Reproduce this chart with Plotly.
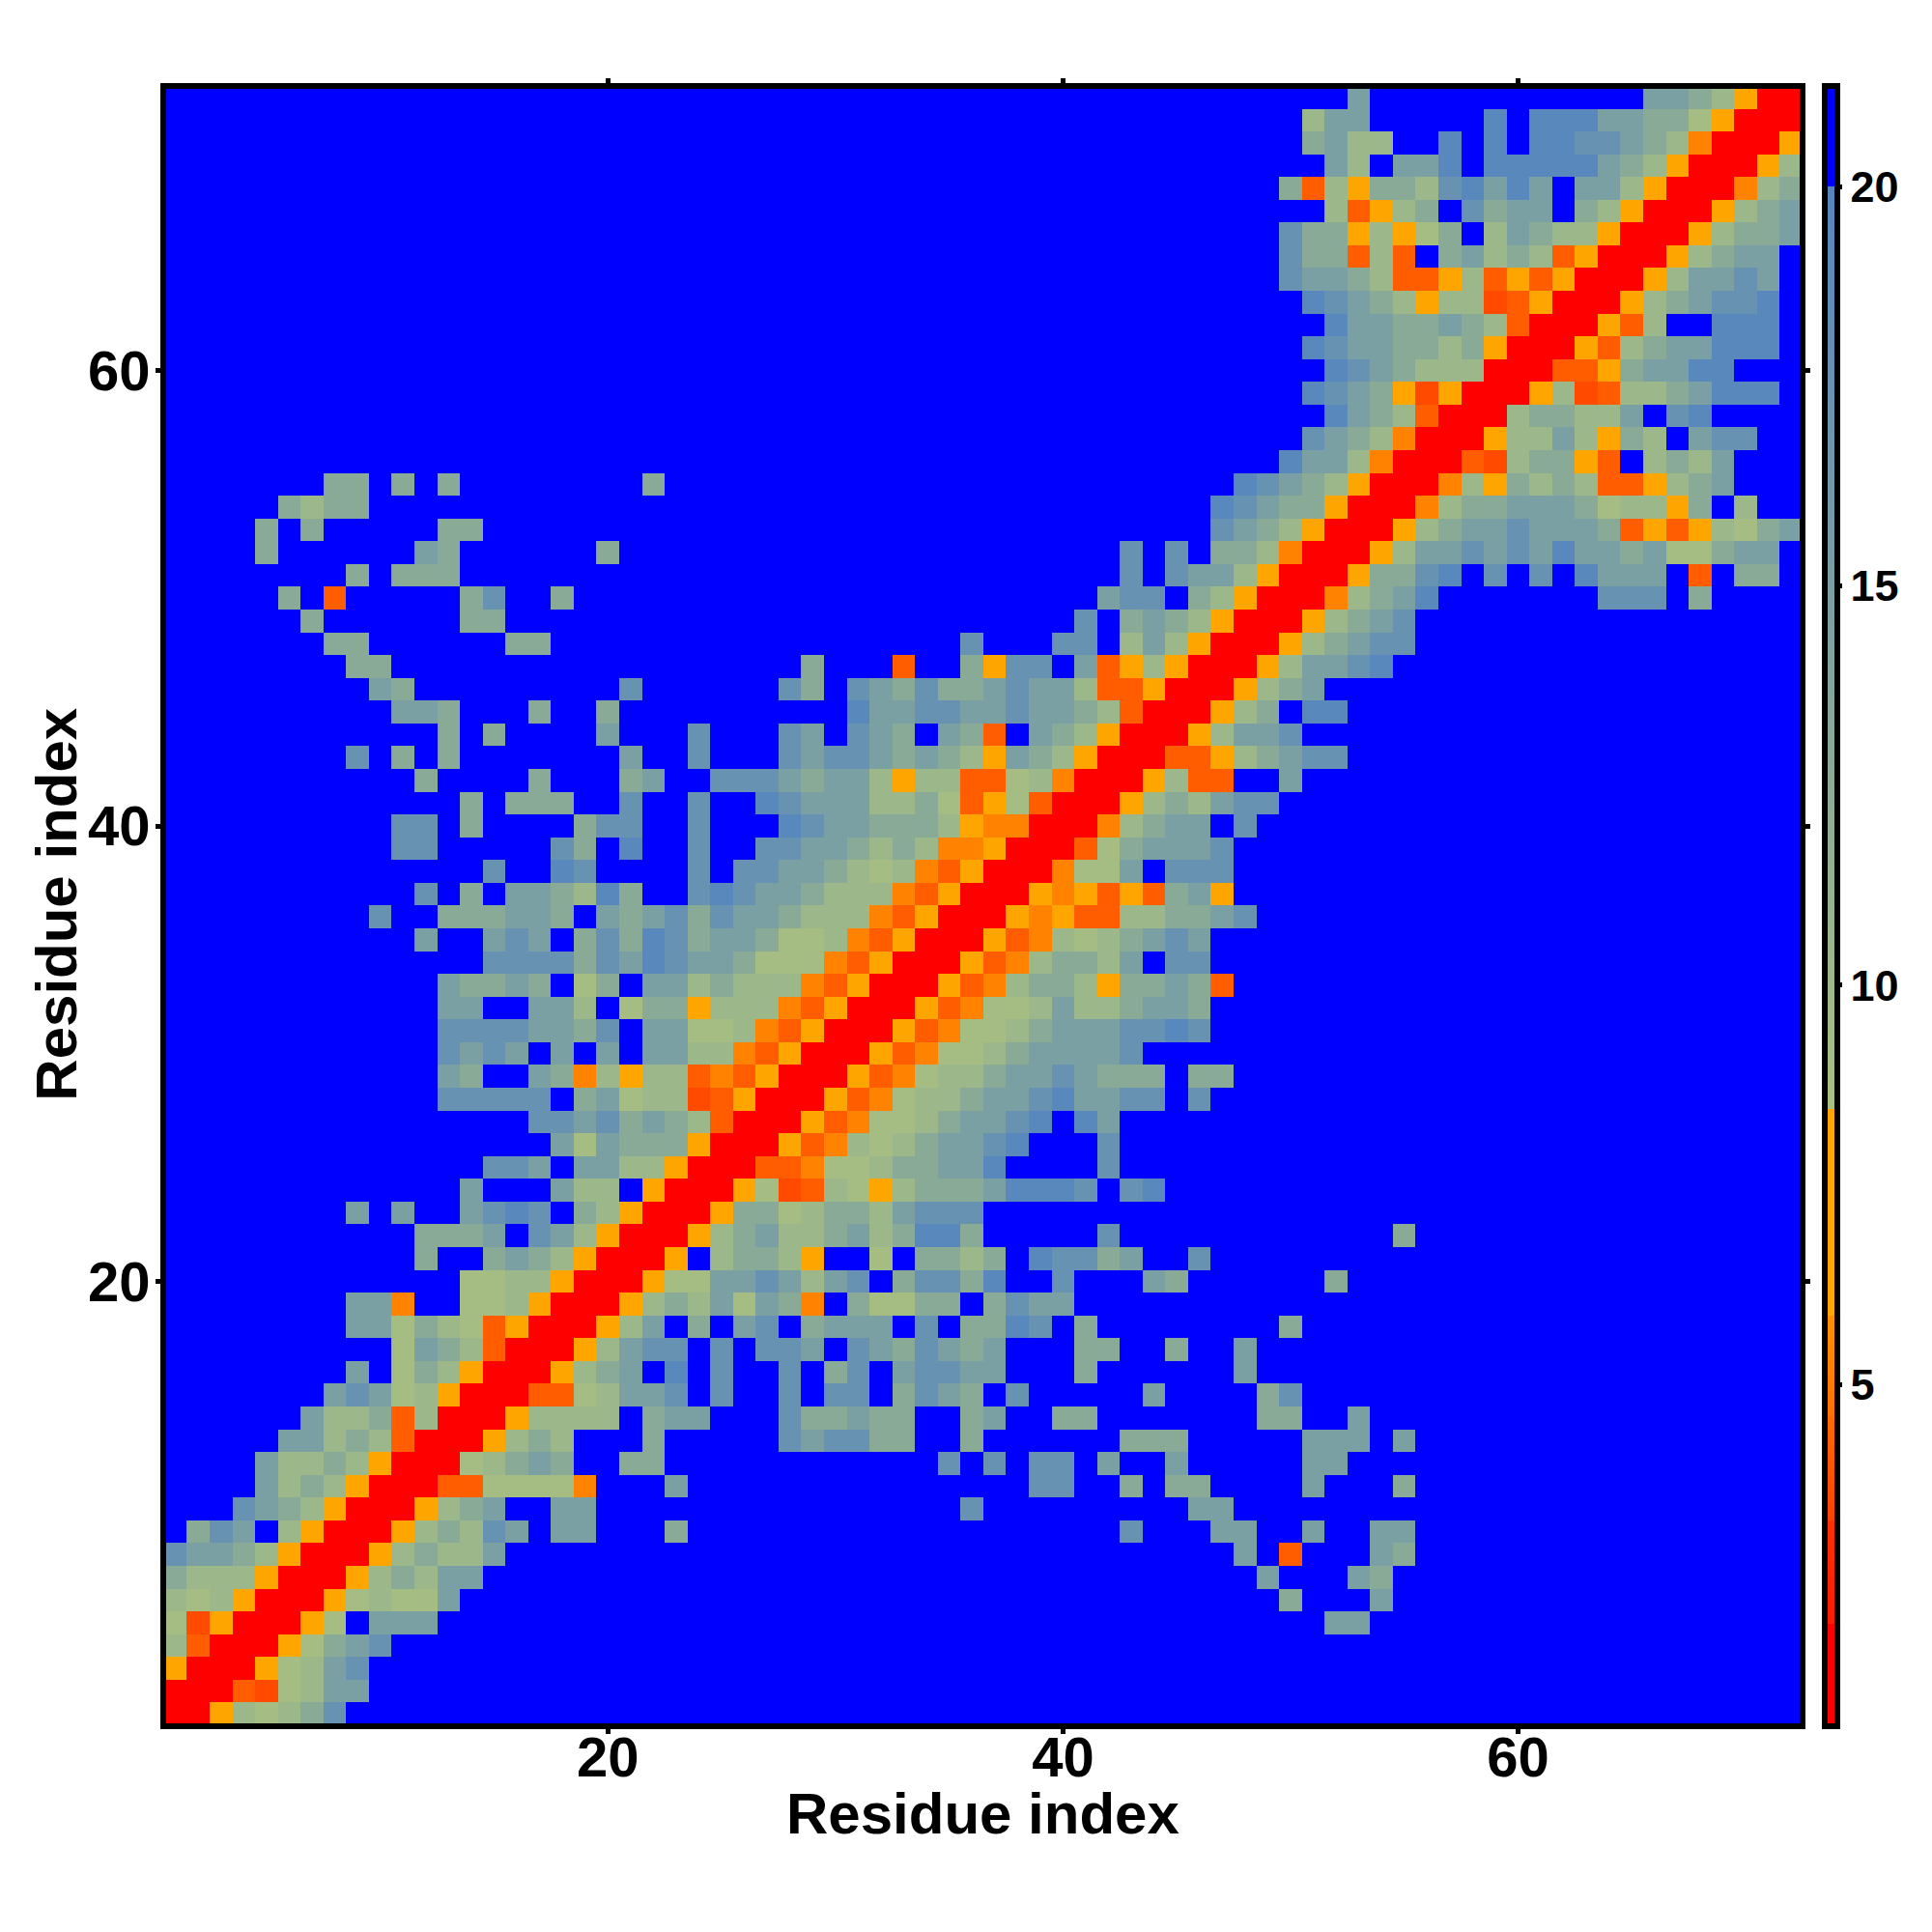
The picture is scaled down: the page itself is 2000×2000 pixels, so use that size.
import numpy as np
import plotly.graph_objects as go

# Distance level (Angstrom) read for each colour code in the picture
LEVELS = {".": 21.0, "R": 1.4, "r": 3.6, "o": 4.2, "d": 5.3, "O": 7.0,
          "a": 9.0, "b": 10.2, "c": 12.8, "e": 14.8, "f": 17.5, "g": 19.5}
N_RES = 72
RESIDUES = list(range(1, N_RES + 1))
TICKS = [20, 40, 60]
CB_TICKS = [5, 10, 15, 20]
AXIS_TITLE = "Residue index"

CELLS = [
 (1,1,"RRObabcf"),(2,1,"RRRorabee"),(3,1,"ORRROabef"),(4,1,"boRRROacef"),(5,1,"arORRROa.eee"),
 (6,1,"babORRROabaae"),(7,1,"cbbbORRRObcbee"),(8,1,"feecbORRRObcbbe"),
 (9,1,".cfe.bORRRObcbfe.ee"),(9,23,"c"),(9,43,"f"),(9,47,"ee"),(9,51,"e"),(9,54,"ee"),
 (8,48,"e"),(8,50,"o"),(8,54,"ec"),(7,49,"e"),(7,53,"ec"),(6,50,"c"),(6,54,"e"),(5,52,"ee"),
 (10,4,"fecbORRRObce..ee"),(10,36,"f"),(10,46,"ee"),
 (11,5,"ebcbORRRooaaaad"),(11,23,"e"),(11,39,"ff"),(11,43,"c"),(11,45,"cc"),(11,51,"e"),(11,55,"c"),
 (12,5,"ebbcbORRRabcec"),(12,21,"cc"),(12,35,"f"),(12,37,"f"),(12,39,"ff"),(12,42,"e"),(12,45,"e"),(12,51,"ee"),
 (13,6,"eebcboRRRObcb"),(13,22,"c"),(13,28,"feffcc"),(13,36,"c"),(13,43,"ccc"),(13,51,"eee"),(13,55,"e"),
 (14,7,"ebbcobRRRObbbb.cee"),(14,28,"fccecc"),(14,36,"ce"),(14,40,"cc"),(14,49,"cc"),(14,53,"e"),
 (15,8,"efeabORRRooabeef.f..f.ff.cfec.f"),(15,44,"e"),(15,49,"cf"),
 (16,9,"e.acbORRRObce.g.f..f.cf.effee"),(16,41,"c"),(16,48,"e"),
 (17,11,"aecboRRRObeff.f.ffe.fecfece"),(17,41,"cc"),(17,45,"c"),(17,48,"e"),
 (18,9,"eeacbaoORRRObe.c.ef.ceee.f.ccgf.c"),(18,50,"c"),
 (19,9,"eed..aabORRRObcbeaecd.caacc.cfee"),
 (20,14,"aabbORRROaaeefebef.cffcg..f"),(20,44,"ec"),(20,52,"c"),
 (21,12,"c..cecbORRRO.bccbO..a.ccbc.gffce..f"),
 (22,12,"ccce.febORRRObcebbcebcggc"),(22,42,"f"),(22,55,"c"),
 (23,9,"e"),(23,11,"e..efgf.cbORRROccabccbefff"),
 (24,14,"e...ebb.ORRROarobaObcccegggf.fg"),
 (25,15,"ffe.eebbORRRoodaabcceeg"),(25,42,"f"),
 (26,18,"eaecccORRROodbabceefg"),(26,42,"f"),
 (27,17,"ffefcecboRRROodaabceefg.ge"),
 (28,13,"fffff.ceabbroORRROodabbceefgeeff.f"),
 (29,13,"ec..ecdbObbodoORRROodabbceefeccc.cc"),
 (30,13,"fefe.e.e.eebbdoORRROodaabceeeef"),
 (31,13,"ffffeecf.eeaabdoORRROodaabceeeffgf"),
 (32,13,"ee..eeb.accObbbdoORRROodaabebbceec"),
 (33,13,"eccec.ac.eebcbbbdoORRROodbccbOcceco"),
 (34,15,"ffffcfegfeecaaadoORRROodbccbe.ff"),
 (35,12,"e..efe.cfcgfceecaabdoORRROodbabcefe"),
 (36,10,"f..ccceec.ecefcfeecbbbdoORRROdOoobbccef"),
 (37,12,"f.c.eecbgc..fgfeecbbbdoORRROdOoOoceO"),
 (38,15,"f..gf....f.ffeecbabdoORRRdaae.fff"),
 (39,11,"ff.....fc.g..f..ffeecbcbddORRRoaceeef"),
 (40,11,"ff.c....cff..f...gfeecccbOddRRRdbcee.f"),
 (41,14,"c.ccc..f..f..gfeeebbcaoOaoRRRObcbeff"),
 (42,12,"c....c...ce..fffeceebObbooabdRRROboo..e"),
 (43,9,"f.c.c.......e..f...feffececbOecbORRRooObceff"),
 (44,13,"c.c....e...f...fe.fec.eco.ecbORRRObeef"),
 (45,11,"eec...c..c..........geeffeefeecboRRRObc.gg"),
 (46,10,"ec.........f......fc.fecfccefeebooORRRObce"),
 (47,9,"cc"),(47,29,"c"),(47,33,"o"),(47,36,"cOff.eoObORRRObeefg"),
 (48,8,"cc"),(48,16,"cc"),(48,36,"f"),(48,40,"ff.bebORRRObceff"),
 (49,7,"c"),(49,14,"cc"),(49,41,"f.cecbORRRObcef"),
 (50,6,"c"),(50,8,"o"),(50,14,"cf"),(50,18,"c"),(50,42,"eff.cbORRRdbceg"),(50,64,"fff"),(50,68,"c"),
 (51,9,"c"),(51,11,"ccc"),(51,43,"f.feebORRROccfg.f.f.geee.o.cc"),
 (52,5,"c"),(52,12,"ec"),(52,20,"c"),(52,43,"f.f.ccbdRRRObeefefegeeceaacee"),
 (53,5,"c"),(53,7,"c"),(53,13,"cc"),(53,47,"fecbORRRObceefeeecoOoObace"),
 (54,6,"cbcc"),(54,47,"gfeccORRRdbcceeecabbOc.b"),
 (55,8,"cc"),(55,11,"c"),(55,13,"c"),(55,22,"c"),(55,48,"gfecbORRRdbOcbcbooObce"),
 (56,50,"geebdRRRorbccOo.bcbe"),(57,51,"fecbdRRRObbebOcb.eff"),(58,52,"gecboRRRbccbbe.fg"),
 (59,51,"gfecOrORRRObrobbceggg"),(60,52,"gfecbbbRRRooOceegg"),(61,51,"gfeeccbcORRROobceeggg"),
 (62,52,"geeccecboRRROob..ggg"),(63,51,"gfecbObbroORRRObceffg"),(64,50,"feecbooOboOoORRRObeefe"),
 (65,50,"fccobo.cebcboORRRObcee"),(66,50,"fccObOac.becbbORRRObcce"),(67,52,"boObc.fcee.cbORRRObce"),
 (68,50,"cobOccbfgege.eebORRRdbc"),(69,52,"eb.eeg.gggggecbORRROb"),(70,51,"cebb..g.g.ggffecbdRRRO"),
 (71,51,"bee"),(71,59,"g.gggeeccaORRR"),(72,53,"e"),(72,66,"eecbORR"),
]

# Colour bands of the colour key: (value, colour)
ZMIN, ZMAX = 0.72, 21.26
BANDS = [(ZMIN, "#ff0000"), (2.0, "#ff0000"), (2.0, "#ff1a00"), (3.3, "#ff3000"),
         (3.3, "#ff4000"), (4.6, "#ff6a00"), (4.6, "#ff7000"), (5.86, "#ff9000"),
         (5.86, "#ffa500"), (8.45, "#ffa500"), (8.45, "#a9c07f"), (20.0, "#5585c0"),
         (20.0, "#0000ff"), (ZMAX, "#0000ff")]

z = np.full((N_RES, N_RES), LEVELS["."])
for row, col, codes in CELLS:
    for k, ch in enumerate(codes):
        if col + k <= N_RES:
            z[row - 1, col - 1 + k] = LEVELS[ch]

scale = [[(v - ZMIN) / (ZMAX - ZMIN), c] for v, c in BANDS]
FONT = "Liberation Sans"
title_font = dict(family=FONT, size=60, color="black", weight="bold")

fig = go.Figure(go.Heatmap(
    x=RESIDUES, y=RESIDUES, z=z, zmin=ZMIN, zmax=ZMAX, colorscale=scale,
    colorbar=dict(
        thickness=13, thicknessmode="pixels", len=1698 / 1692, lenmode="fraction",
        x=(1889 - 172) / 1691, xanchor="left", xpad=0,
        y=-3 / 1692, yanchor="bottom", ypad=0,
        outlinecolor="black", outlinewidth=6, borderwidth=0,
        tickvals=CB_TICKS, ticks="outside", ticklen=2, tickwidth=5, tickcolor="black",
        tickfont=dict(family=FONT, size=45, color="black", weight="bold"),
    ),
))

axis = dict(
    range=[0.59, 72.37], tickvals=TICKS, ticks="outside", ticklen=5, tickwidth=5,
    tickcolor="black", showline=True, linecolor="black", linewidth=6, mirror="ticks",
    showgrid=False, zeroline=False,
    tickfont=dict(family=FONT, size=58, color="black", weight="bold"),
)
fig.update_layout(
    width=2000, height=2000, paper_bgcolor="white", plot_bgcolor="white",
    margin=dict(l=164, r=145, t=84, b=224, autoexpand=False),
    xaxis=dict(axis, ticklabelstandoff=-26),
    yaxis=dict(axis, ticklabelstandoff=-6),
    annotations=[
        dict(text=AXIS_TITLE, xref="paper", yref="paper", x=0.5, y=-0.0550,
             xanchor="center", yanchor="middle", showarrow=False, font=title_font),
        dict(text=AXIS_TITLE, xref="paper", yref="paper", x=-0.0670, y=0.5012,
             xanchor="center", yanchor="middle", textangle=-90, showarrow=False, font=title_font),
    ],
)
fig.write_html("out.html")
